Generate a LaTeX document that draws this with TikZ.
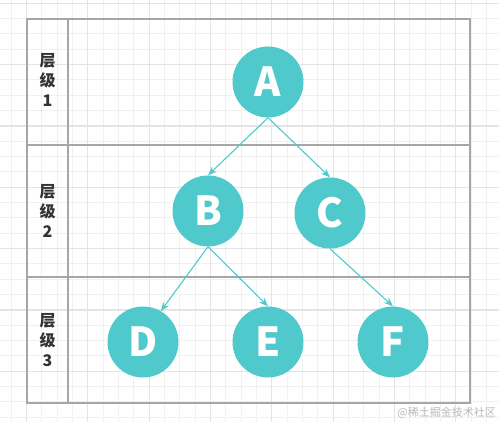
\documentclass[tikz,border=0pt]{standalone}
\usepackage{fontspec}
\newfontfamily\cjk{Noto Sans CJK SC}
\usetikzlibrary{arrows.meta}
\definecolor{teal1}{HTML}{4FC9CC}
\definecolor{tabgray}{HTML}{A6A6A6}
\definecolor{gridminor}{HTML}{F0F0F0}
\definecolor{gridmajor}{HTML}{E4E4E4}
\definecolor{labeltext}{HTML}{333333}
\tikzset{
  treenode/.style={circle,fill=teal1,minimum size=71pt,inner sep=0pt,
    text=white,font=\cjk\bfseries\fontsize{40}{40}\selectfont},
  treeedge/.style={draw=teal1,line width=1.1pt,-{Stealth[length=9pt,width=7pt]}},
  tabline/.style={draw=tabgray,line width=1.8pt},
  levellabel/.style={align=center,text=labeltext,inner sep=0pt,
    font=\cjk\bfseries\fontsize{16}{20}\selectfont},
}
\begin{document}
\begin{tikzpicture}[x=1pt,y=-1pt]
\useasboundingbox (0,0) rectangle (499,422);
% grid
\foreach \i in {0,...,32} {
  \pgfmathsetmacro\gx{11.17+15.333*\i}
  \draw[gridminor,line width=1pt] (\gx,0) -- (\gx,422);
}
\foreach \i in {0,...,27} {
  \pgfmathsetmacro\gy{3.3+15.333*\i}
  \draw[gridminor,line width=1pt] (0,\gy) -- (499,\gy);
}
\foreach \i in {0,...,7} {
  \pgfmathsetmacro\gx{26.5+61.333*\i}
  \draw[gridmajor,line width=1.2pt] (\gx,0) -- (\gx,422);
}
\foreach \i in {0,...,6} {
  \pgfmathsetmacro\gy{3.3+61.333*\i}
  \draw[gridmajor,line width=1.2pt] (0,\gy) -- (499,\gy);
}
% table
\draw[tabline] (27,19) rectangle (470,403);
\draw[tabline] (68,19) -- (68,403);
\draw[tabline] (27,145) -- (470,145);
\draw[tabline] (27,277) -- (470,277);
% labels
\node[levellabel] (L1) at (47.5,80) {层\\级\\1};
\node[levellabel] (L2) at (47.5,211) {层\\级\\2};
\node[levellabel] (L3) at (47.5,340) {层\\级\\3};
% nodes
\node[treenode] (A) at (268,82) {A};
\node[treenode] (B) at (208,211) {B};
\node[treenode] (C) at (330,213) {C};
\node[treenode] (D) at (143,342) {D};
\node[treenode] (E) at (268,342) {E};
\node[treenode] (F) at (393,342) {F};
% edges
\draw[treeedge] (A.south) -- (B.north);
\draw[treeedge] (A.south) -- (C.north);
\draw[treeedge] (B.south) -- (D.60);
\draw[treeedge] (B.south) -- (E.north);
\draw[treeedge] (C.south) -- (F.north);
% watermark
\node[text=black!28,font=\cjk\fontsize{11}{11}\selectfont,anchor=east,inner sep=0pt] (W) at (496,413) {@稀土掘金技术社区};
\end{tikzpicture}
\end{document}
